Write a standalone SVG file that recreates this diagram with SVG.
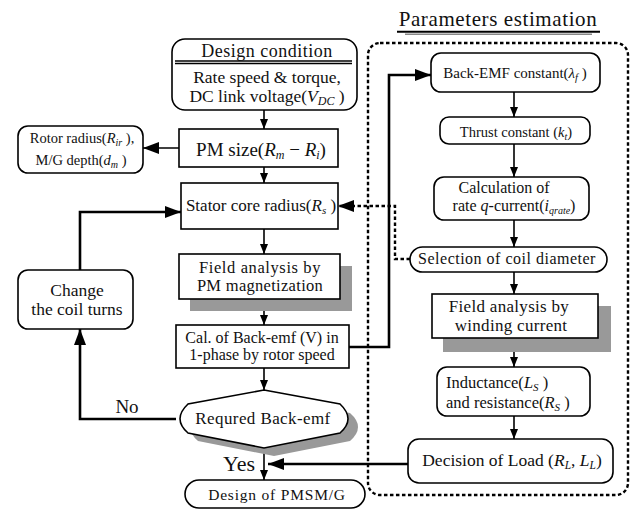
<svg xmlns="http://www.w3.org/2000/svg" width="634" height="509" viewBox="0 0 634 509" font-family="Liberation Serif, Times New Roman, serif">
<defs>
<style>
.box{fill:#fff;stroke:#000;stroke-width:1.6}
.shadow{fill:#999;stroke:none}
.t{fill:#111;text-anchor:middle}
.l{fill:none;stroke:#000;stroke-width:1.6}
.thick{fill:none;stroke:#000;stroke-width:2.6}
.dash{fill:none;stroke:#000;stroke-width:2.4;stroke-dasharray:3.5 2.5}
.i{font-style:italic}
</style>
<marker id="a" viewBox="0 0 10 8" refX="10" refY="4" markerWidth="10" markerHeight="8" markerUnits="userSpaceOnUse" orient="auto"><path d="M0,0L10,4L0,8Z" fill="#000"/></marker>
<marker id="b" viewBox="0 0 16 12" refX="16" refY="6" markerWidth="16" markerHeight="12" markerUnits="userSpaceOnUse" orient="auto"><path d="M0,0L16,6L0,12Z" fill="#000"/></marker>
</defs>
<rect width="634" height="509" fill="#fff"/>

<g id="param-region">
<rect x="368" y="43" width="260" height="452" rx="12" class="dash"/>
<text class="t" x="498" y="26" font-size="21" letter-spacing="0.6">Parameters  estimation</text>
<line x1="397" y1="31.8" x2="600" y2="31.8" stroke="#000" stroke-width="2"/>
<line x1="405" y1="34.2" x2="592" y2="34.2" stroke="#888" stroke-width="1.6"/>
</g>

<g id="connectors">
<line x1="264" y1="110" x2="264" y2="129" class="l" marker-end="url(#a)"/>
<line x1="179" y1="148" x2="143" y2="148" class="l" marker-end="url(#b)"/>
<line x1="264" y1="167" x2="264" y2="183" class="l" marker-end="url(#a)"/>
<line x1="264" y1="229" x2="264" y2="254" class="l" marker-end="url(#a)"/>
<line x1="264" y1="299" x2="264" y2="325" class="l" marker-end="url(#a)"/>
<line x1="264" y1="368" x2="264" y2="390" class="l" marker-end="url(#a)"/>
<line x1="264" y1="448" x2="264" y2="480" class="l" marker-end="url(#a)"/>
<polyline points="80,270 80,212 181,212" class="thick" marker-end="url(#b)"/>
<polyline points="176,419 80,419 80,329" class="thick" marker-end="url(#b)"/>
<polyline points="349,347 389,347 389,75 431,75" class="thick" marker-end="url(#b)"/>
<polyline points="410,259 395,259 395,206 338,206" class="dash" marker-end="url(#b)"/>
<line x1="408" y1="464" x2="268" y2="464" class="thick" marker-end="url(#b)"/>
<line x1="514" y1="92" x2="514" y2="117" class="l" marker-end="url(#a)"/>
<line x1="514" y1="144" x2="514" y2="177" class="l" marker-end="url(#a)"/>
<line x1="514" y1="220" x2="514" y2="247" class="l" marker-end="url(#a)"/>
<line x1="514" y1="272" x2="514" y2="294" class="l" marker-end="url(#a)"/>
<line x1="514" y1="338" x2="514" y2="367" class="l" marker-end="url(#a)"/>
<line x1="514" y1="416" x2="514" y2="439" class="l" marker-end="url(#a)"/>
<text class="t" x="127" y="413" font-size="19">No</text>
<text class="t" x="239" y="471" font-size="22">Yes</text>
</g>

<g id="design-condition">
<rect x="172" y="39" width="185" height="71" rx="13" class="box"/>
<line x1="175" y1="61" x2="352" y2="61" stroke="#000" stroke-width="1.6"/>
<line x1="175" y1="63.5" x2="352" y2="63.5" stroke="#000" stroke-width="1.6"/>
<text class="t" x="267" y="57" font-size="18" letter-spacing="0.5">Design condition</text>
<text class="t" x="267" y="83" font-size="17.5">Rate speed &amp; torque,</text>
<text class="t" x="267" y="102" font-size="17.5">DC link voltage(<tspan class="i">V</tspan><tspan class="i" font-size="12" dy="3">DC</tspan><tspan dy="-3"> )</tspan></text>
</g>

<g id="pm-size">
<rect x="179" y="129" width="159" height="38" class="box"/>
<text class="t" x="261" y="156" font-size="19">PM size(<tspan class="i">R</tspan><tspan class="i" font-size="12" dy="3">m</tspan><tspan dy="-3"> − </tspan><tspan class="i">R</tspan><tspan class="i" font-size="12" dy="3">i</tspan><tspan dy="-3">)</tspan></text>
</g>

<g id="rotor-radius">
<rect x="18" y="126" width="125" height="47" rx="10" class="box"/>
<text class="t" x="82" y="143" font-size="14.5">Rotor radius(<tspan class="i">R</tspan><tspan class="i" font-size="10" dy="3">ir</tspan><tspan dy="-3"> ),</tspan></text>
<text class="t" x="81" y="165" font-size="14.5">M/G depth(<tspan class="i">d</tspan><tspan class="i" font-size="10" dy="3">m</tspan><tspan dy="-3"> )</tspan></text>
</g>

<g id="stator-core">
<rect x="181" y="183" width="157" height="46" class="box"/>
<text class="t" x="261" y="211" font-size="17">Stator core radius(<tspan class="i">R</tspan><tspan class="i" font-size="11" dy="3">s</tspan><tspan dy="-3"> )</tspan></text>
</g>

<g id="field-pm">
<rect x="190" y="266" width="162" height="45" class="shadow"/>
<rect x="179" y="254" width="161" height="45" class="box"/>
<text class="t" x="260" y="273" font-size="16.5" letter-spacing="0.6">Field analysis by</text>
<text class="t" x="260" y="291" font-size="16.5" letter-spacing="0.3">PM magnetization</text>
</g>

<g id="cal-backemf">
<rect x="176" y="325" width="173" height="43" class="box"/>
<text class="t" x="262" y="343" font-size="16">Cal. of Back-emf (V) in</text>
<text class="t" x="262" y="360" font-size="16">1-phase by rotor speed</text>
</g>

<g id="change-coil">
<rect x="18" y="270" width="115" height="59" rx="10" class="box"/>
<text class="t" x="77" y="296" font-size="17.5">Change</text>
<text class="t" x="77" y="315" font-size="17.5">the coil turns</text>
</g>

<g id="required-backemf">
<path d="M274,399 L350,413 Q366,427 350,441 L274,456 L198,441 Q182,427 198,413 Z" class="shadow"/>
<path d="M264,390 L340,404 Q356,419 340,433 L264,448 L188,433 Q172,419 188,404 Z" class="box"/>
<text class="t" x="263" y="424" font-size="17" letter-spacing="0.4">Requred Back-emf</text>
</g>

<g id="design-pmsm">
<rect x="185" y="480" width="180" height="28" rx="14" class="box"/>
<text class="t" x="277" y="500" font-size="15.5" letter-spacing="0.8">Design of PMSM/G</text>
</g>

<g id="backemf-const">
<rect x="431" y="53" width="169" height="39" rx="10" class="box"/>
<text class="t" x="515" y="78" font-size="15">Back-EMF constant(<tspan class="i">λ</tspan><tspan class="i" font-size="10.5" dy="3">f</tspan><tspan dy="-3"> )</tspan></text>
</g>

<g id="thrust-const">
<rect x="440" y="117" width="150" height="27" rx="9" class="box"/>
<text class="t" x="516" y="137" font-size="14.5">Thrust constant (<tspan class="i">k</tspan><tspan class="i" font-size="10" dy="3">t</tspan><tspan dy="-3">)</tspan></text>
</g>

<g id="calc-q-current">
<rect x="434" y="177" width="155" height="43" rx="10" class="box"/>
<text class="t" x="504" y="193" font-size="16">Calculation of</text>
<text class="t" x="514" y="211" font-size="16">rate <tspan class="i">q</tspan>-current(<tspan class="i">i</tspan><tspan class="i" font-size="10" dy="3">qrate</tspan><tspan dy="-3">)</tspan></text>
</g>

<g id="coil-diameter">
<rect x="410" y="247" width="197" height="25" rx="12.5" class="box"/>
<text class="t" x="507" y="264" font-size="16" letter-spacing="0.5">Selection of coil diameter</text>
</g>

<g id="field-winding">
<rect x="443" y="306" width="168" height="46" class="shadow"/>
<rect x="432" y="294" width="166" height="44" class="box"/>
<text class="t" x="509" y="312" font-size="17" letter-spacing="0.3">Field analysis by</text>
<text class="t" x="511" y="331" font-size="17" letter-spacing="0.3">winding current</text>
</g>

<g id="inductance">
<rect x="437" y="367" width="153" height="49" rx="10" class="box"/>
<text class="t" x="446" y="388" font-size="16.5" style="text-anchor:start">Inductance(<tspan class="i">L</tspan><tspan class="i" font-size="11" dy="3">S</tspan><tspan dy="-3"> )</tspan></text>
<text class="t" x="446" y="408" font-size="16.5" style="text-anchor:start">and  resistance(<tspan class="i">R</tspan><tspan class="i" font-size="11" dy="3">S</tspan><tspan dy="-3"> )</tspan></text>
</g>

<g id="decision-load">
<rect x="408" y="439" width="205" height="44" rx="11" class="box"/>
<text class="t" x="512" y="466" font-size="17.5">Decision of Load (<tspan class="i">R</tspan><tspan class="i" font-size="11.5" dy="3">L</tspan><tspan dy="-3">, </tspan><tspan class="i">L</tspan><tspan class="i" font-size="11.5" dy="3">L</tspan><tspan dy="-3">)</tspan></text>
</g>
</svg>
